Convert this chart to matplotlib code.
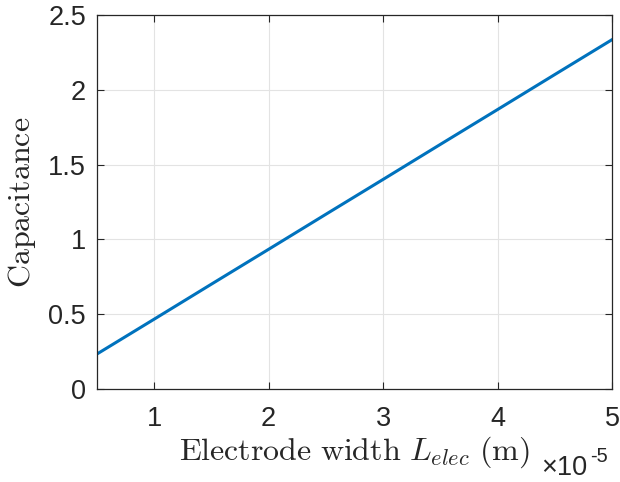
import matplotlib
matplotlib.use("Agg")
import matplotlib.pyplot as plt
from matplotlib.ticker import FuncFormatter

# Data
x_vals = [0.5e-5, 1e-5, 1.5e-5, 2e-5, 2.5e-5, 3e-5, 3.5e-5, 4e-5, 4.5e-5, 5e-5]
capacitance = [0.234, 0.467, 0.701, 0.934, 1.168, 1.401, 1.635, 1.868, 2.102, 2.335]
x_ticks = [1e-5, 2e-5, 3e-5, 4e-5, 5e-5]
y_ticks = [0, 0.5, 1, 1.5, 2, 2.5]

plt.rcParams['mathtext.fontset'] = 'cm'
plt.rcParams['font.family'] = ['Liberation Sans', 'DejaVu Sans']

fig = plt.figure(figsize=(6.2, 4.82), dpi=100)
ax = fig.add_axes([97/620, 1 - 389/482, (612-97)/620, (389-15)/482])

ax.plot(x_vals, capacitance, color='#0072BD', linewidth=2.2)
ax.set_xlim(0.5e-5, 5e-5)
ax.set_ylim(0, 2.5)
ax.set_xticks(x_ticks)
ax.set_yticks(y_ticks)
ax.xaxis.set_major_formatter(FuncFormatter(lambda v, p: f"{v/1e-5:g}"))
ax.yaxis.set_major_formatter(FuncFormatter(lambda v, p: f"{v:g}"))
ax.grid(True, color='#e3e3e3', linewidth=0.8)
ax.set_axisbelow(True)
ax.tick_params(direction='in', top=True, right=True, length=5, width=0.8,
               colors='#262626', labelsize=19.5, labelcolor='#262626')
ax.tick_params(axis='x', pad=12)
ax.tick_params(axis='y', pad=8)
for s in ax.spines.values():
    s.set_color('#262626')
    s.set_linewidth(0.9)

ax.set_xlabel(r'$\mathrm{Electrode\ width}\ L_{elec}\ \mathrm{(m)}$', fontsize=23, color='#262626', labelpad=2)
ax.set_ylabel(r'$\mathrm{Capacitance}$', fontsize=23, color='#262626', labelpad=7)

fig.text(541/620, 1 - 475/482, '×10', fontsize=19.5, color='#262626', ha='left', va='baseline')
fig.text(590/620, 1 - 462/482, '-5', fontsize=14.5, color='#262626', ha='left', va='baseline')

fig.savefig('out.png', dpi=100)
